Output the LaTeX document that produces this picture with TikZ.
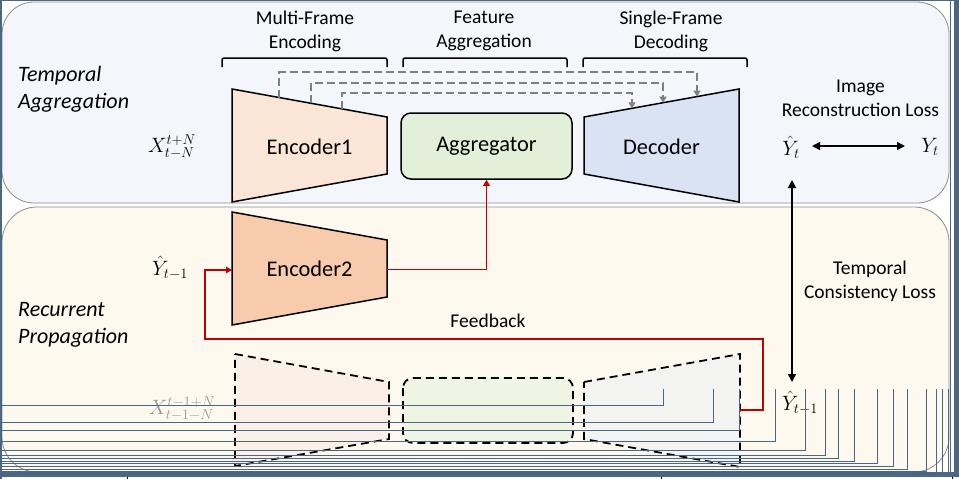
\documentclass[tikz,border=0pt]{standalone}
\usepackage{fontspec}
\setmainfont{Carlito}
\usetikzlibrary{arrows.meta}
\definecolor{frameblue}{HTML}{4A6785}
\definecolor{toppanel}{HTML}{F3F6FB}
\definecolor{botpanel}{HTML}{FDF9EE}
\definecolor{panelline}{HTML}{8C8C8C}
\definecolor{enconefill}{HTML}{FBE5D6}
\definecolor{enctwofill}{HTML}{F8CBAD}
\definecolor{aggfill}{HTML}{E2F0D9}
\definecolor{decfill}{HTML}{DAE3F3}
\definecolor{ghostenc}{HTML}{FBF0E7}
\definecolor{ghostagg}{HTML}{F0F4E5}
\definecolor{ghostdec}{HTML}{F3F4F1}
\definecolor{redline}{HTML}{C00000}
\definecolor{dashgray}{HTML}{7F7F7F}
\definecolor{ghosttext}{HTML}{999999}
\tikzset{
  lbl/.style={font=\fontsize{19.5}{24}\selectfont, align=center, inner sep=0pt},
  biglbl/.style={font=\fontsize{22.4}{26}\selectfont, inner sep=0pt},
  ital/.style={font=\fontsize{22}{27}\selectfont\itshape, align=left, inner sep=0pt, anchor=west},
  mathlbl/.style={font=\fontsize{22.5}{26}\selectfont, inner sep=0pt},
  solidshape/.style={draw=black, line width=1.5pt, line join=miter},
  ghostshape/.style={draw=black, line width=1.8pt, dash pattern=on 8pt off 5pt},
  gdash/.style={draw=dashgray, line width=1.7pt, dash pattern=on 8pt off 4pt, -{Triangle[length=6pt,width=7pt]}},
  redarrow/.style={draw=redline, line width=1.8pt, -{Triangle[length=6pt,width=6.5pt]}},
  blkarrow/.style={draw=black, line width=1.6pt, {Triangle[length=8pt,width=8pt]}-{Triangle[length=8pt,width=8pt]}},
  bracketline/.style={draw=black, line width=1.5pt, rounded corners=2pt},
  artline/.style={draw=frameblue, line width=0.9pt},
}
\begin{document}
\begin{tikzpicture}[x=1pt,y=-1pt]
\useasboundingbox (0,0) rectangle (959,479);
\fill[white] (0,0) rectangle (959,479);
% panels
\draw[panelline, fill=toppanel, line width=0.8pt, rounded corners=32pt] (2,2) rectangle (949,203);
\draw[panelline, fill=botpanel, line width=0.8pt, rounded corners=35pt] (2,207) rectangle (949,472);
% panel titles
\node[ital] (ta) at (18,89.5) {Temporal\\Aggregation};
\node[ital] (rp) at (18,324.5) {Recurrent\\Propagation};
% brackets
\draw[bracketline] (222,67) -- (222,58) -- (387,58) -- (387,67);
\draw[bracketline] (403,67) -- (403,58) -- (567,58) -- (567,67);
\draw[bracketline] (583,67) -- (583,58) -- (747,58) -- (747,67);
\node[lbl] (mfe) at (305,31) {Multi-Frame\\Encoding};
\node[lbl] (fa) at (484,31) {Feature\\Aggregation};
\node[lbl] (sfd) at (671,31) {Single-Frame\\Decoding};
% main shapes
\filldraw[solidshape, fill=enconefill] (232,89) -- (387,117) -- (387,174) -- (232,202) -- cycle;
\node[biglbl] (enc1) at (309.5,147) {Encoder1};
\node[solidshape, fill=aggfill, rounded corners=10pt, minimum width=171pt, minimum height=66pt, font=\fontsize{22.4}{26}\selectfont] (agg) at (486.5,146) {Aggregator};
\filldraw[solidshape, fill=decfill] (584,117) -- (739,89) -- (739,202) -- (584,174) -- cycle;
\node[biglbl] (dec) at (661.5,147) {Decoder};
\filldraw[solidshape, fill=enctwofill] (232,212) -- (387,240) -- (387,297) -- (232,325) -- cycle;
\node[biglbl] (enc2) at (309.5,269) {Encoder2};
% ghost shapes
\filldraw[ghostshape, fill=ghostenc] (235,354) -- (389,382) -- (389,439) -- (235,466) -- cycle;
\filldraw[ghostshape, fill=ghostagg, rounded corners=10pt] (403,378) rectangle (573,443);
\filldraw[ghostshape, fill=ghostdec] (584,382) -- (740,354) -- (740,467) -- (584,439) -- cycle;
% skip connections
\coordinate (s1a) at (279,97.5);
\coordinate (s2a) at (311,103.3);
\coordinate (s3a) at (342,108.9);
\coordinate (s1b) at (697,96.6);
\coordinate (s2b) at (663,102.7);
\coordinate (s3b) at (632,108.3);
\draw[gdash] (s1a) -- (s1a |- 0,72) -- (s1b |- 0,72) -- (s1b);
\draw[gdash] (s2a) -- (s2a |- 0,83) -- (s2b |- 0,83) -- (s2b);
\draw[gdash] (s3a) -- (s3a |- 0,93) -- (s3b |- 0,93) -- (s3b);
% math labels
\node[mathlbl] (xin) at (172,147) {$X_{t-N}^{t+N}$};
\node[mathlbl] (yprev) at (170,268) {$\hat{Y}_{t-1}$};
\node[mathlbl, text=ghosttext] (xghost) at (182,409) {$X_{t-1-N}^{t-1+N}$};
\node[mathlbl] (yhat) at (791,147) {$\hat{Y}_{t}$};
\node[mathlbl] (yt) at (930,147) {$Y_{t}$};
\node[mathlbl] (yhatprev) at (800,403) {$\hat{Y}_{t-1}$};
% loss labels
\node[lbl] (irl) at (860.5,98) {Image\\Reconstruction Loss};
\node[lbl] (tcl) at (870,281) {Temporal\\Consistency Loss};
\node[lbl] (fb) at (488,321) {Feedback};
% arrows
\coordinate (hl) at (812,146);
\coordinate (hr) at (905,146);
\draw[blkarrow] (hl) -- (hr);
\coordinate (vt) at (792,180);
\coordinate (vb) at (792,382);
\draw[blkarrow] (vt) -- (vb);
\coordinate (e2out) at (387,269.5);
\draw[redarrow] (e2out) -| (agg.south);
\coordinate (gdout) at (740,410);
\coordinate (e2in) at (232,270);
\draw[redarrow] (gdout) -- (763,410) -- (763,339) -- (205,339) -- (205,270) -- (e2in);
% frame artefacts
\foreach \yy/\xx in {405.5/663,422/713,430/739.5,441/775.5,450/805.3,455.5/825.7,458.5/838.7,461.5/854.7,463.3/877,466/893,469/907,471/926}{
  \draw[artline] (0,\yy) -- (\xx,\yy) -- (\xx,389);
}
\foreach \xx in {936.7,942.7,948.7}{
  \draw[artline] (\xx,472) -- (\xx,389);
}
\draw[frameblue, line width=1.5pt] (0.75,479) -- (0.75,0.6) -- (954,0.6);
\draw[frameblue, line width=1.5pt] (950.3,0) -- (950.3,472);
\fill[frameblue] (953.5,0) rectangle (958.5,477);
\fill[frameblue] (0,472.3) rectangle (958.5,476.7);
\draw[black, line width=1pt] (127,476.7) -- (127,479);
\draw[black, line width=1pt] (661,476.7) -- (661,479);
\draw[black, line width=1pt] (952,476.7) -- (952,479);
\end{tikzpicture}
\end{document}
